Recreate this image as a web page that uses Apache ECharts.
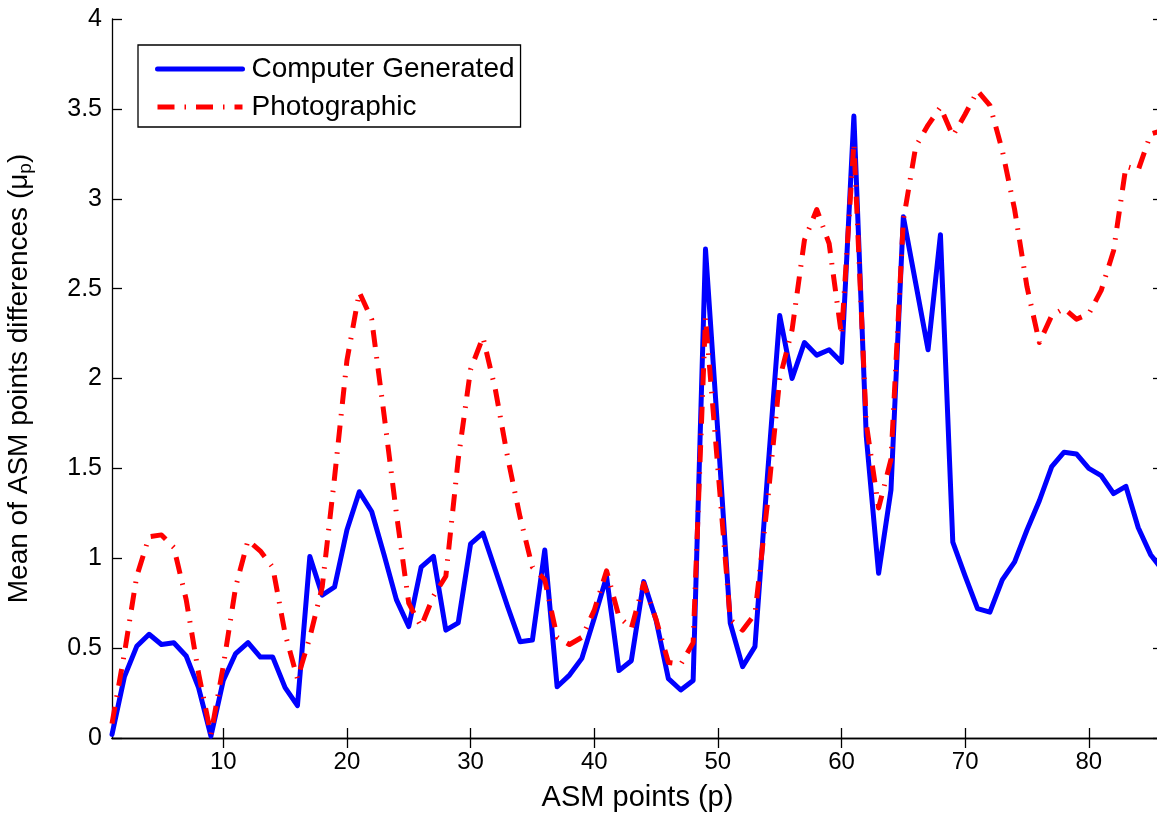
<!DOCTYPE html>
<html>
<head>
<meta charset="utf-8">
<script src="https://cdn.jsdelivr.net/npm/echarts@6/dist/echarts.min.js"></script>
<style>
html,body{margin:0;padding:0;background:#fff;}
#chart{width:1157px;height:816px;}
</style>
</head>
<body>
<div id="chart"></div>
<script>
// ASM point indices 1..86
var points = [];
for (var i = 1; i <= 86; i++) points.push(i);

var computerGenerated = [
  0.02, 0.34, 0.51, 0.577, 0.52, 0.53, 0.456, 0.28, 0.01, 0.32,
  0.47, 0.53, 0.45, 0.45, 0.28, 0.18, 1.01, 0.795, 0.84, 1.157,
  1.37, 1.26, 1.02, 0.77, 0.62, 0.95, 1.01, 0.60, 0.64, 1.08,
  1.14, 0.935, 0.73, 0.536, 0.545, 1.046, 0.285, 0.35, 0.443, 0.666,
  0.897, 0.375, 0.43, 0.87, 0.656, 0.33, 0.267, 0.32, 2.72, 1.70,
  0.64, 0.397, 0.508, 1.45, 2.35, 2.00, 2.20, 2.13, 2.16, 2.09,
  3.46, 1.68, 0.916, 1.38, 2.90, 2.53, 2.16, 2.80, 1.09, 0.90,
  0.72, 0.70, 0.88, 0.98, 1.157, 1.32, 1.51, 1.59, 1.58, 1.50,
  1.46, 1.36, 1.40, 1.17, 1.02, 0.93
];

var photographic = [
  0.08, 0.47, 0.90, 1.12, 1.13, 1.06, 0.77, 0.36, 0.02, 0.40,
  0.84, 1.10, 1.04, 0.95, 0.58, 0.33, 0.56, 0.84, 1.45, 2.10,
  2.48, 2.33, 1.80, 1.25, 0.75, 0.62, 0.79, 0.90, 1.55, 2.05,
  2.23, 1.94, 1.56, 1.23, 0.95, 0.88, 0.56, 0.52, 0.56, 0.71,
  0.93, 0.675, 0.61, 0.86, 0.66, 0.42, 0.41, 0.53, 2.34, 1.50,
  0.66, 0.60, 0.69, 1.30, 2.00, 2.27, 2.77, 2.94, 2.75, 2.24,
  3.31, 1.75, 1.28, 1.55, 2.88, 3.29, 3.41, 3.51, 3.35, 3.47,
  3.60, 3.52, 3.27, 2.94, 2.51, 2.20, 2.35, 2.39, 2.33, 2.36,
  2.49, 2.71, 3.18, 3.16, 3.36, 3.38
];

var xTicks = [10, 20, 30, 40, 50, 60, 70, 80];
var seriesNames = ['Computer Generated', 'Photographic'];
var xTitle = 'ASM points (p)';
var yTitle = 'Mean of ASM points differences (\u03bc{sub|p})';

function pairs(xs, ys) {
  var out = [];
  for (var i = 0; i < xs.length; i++) out.push([xs[i], ys[i]]);
  return out;
}

var FONT = "'Liberation Sans', Arial, Helvetica, sans-serif";
var axisLineStyle = { color: '#000', width: 1.3 };

var chart = echarts.init(document.getElementById('chart'), null, { renderer: 'canvas' });
chart.setOption({
  animation: false,
  backgroundColor: '#fff',
  textStyle: { fontFamily: FONT },
  grid: { left: 112, top: 19, width: 1051, height: 719, containLabel: false, outerBoundsMode: 'none' },
  legend: {
    left: 138, top: 45, orient: 'vertical',
    padding: [10, 6, 6, 17], itemGap: 10, itemWidth: 85, itemHeight: 28,
    borderColor: '#000', borderWidth: 1.3, backgroundColor: '#fff',
    itemStyle: { opacity: 0, borderWidth: 0 },
    lineStyle: { width: 5 },
    textStyle: { fontSize: 28, color: '#000', fontFamily: FONT, padding: [0, 0, 0, 4] },
    data: seriesNames
  },
  xAxis: [
    {
      type: 'value', min: 1, max: 86, position: 'bottom',
      axisLine: { show: true, lineStyle: axisLineStyle },
      axisTick: { show: true, inside: true, length: 10, customValues: xTicks, lineStyle: axisLineStyle },
      axisLabel: { customValues: xTicks, fontSize: 24, color: '#000', margin: 12, fontFamily: FONT },
      splitLine: { show: false },
      name: xTitle, nameLocation: 'middle', nameGap: 45,
      nameTextStyle: { fontSize: 29, color: '#000', fontFamily: FONT }
    },
    {
      type: 'value', min: 1, max: 86, position: 'top',
      axisLine: { show: true, lineStyle: axisLineStyle },
      axisTick: { show: true, inside: true, length: 10, customValues: xTicks, lineStyle: axisLineStyle },
      axisLabel: { show: false },
      splitLine: { show: false }
    }
  ],
  yAxis: [
    {
      type: 'value', min: 0, max: 4, interval: 0.5, position: 'left',
      axisLine: { show: true, lineStyle: axisLineStyle },
      axisTick: { show: true, inside: true, length: 10, lineStyle: axisLineStyle },
      axisLabel: { fontSize: 25, color: '#000', margin: 10, fontFamily: FONT },
      splitLine: { show: false },
      name: yTitle, nameLocation: 'middle', nameGap: 77,
      nameTextStyle: {
        fontSize: 28, color: '#000', fontFamily: FONT,
        rich: { sub: { fontSize: 19, color: '#000', fontFamily: FONT, padding: [12, 0, 0, 0] } }
      }
    },
    {
      type: 'value', min: 0, max: 4, interval: 0.5, position: 'right',
      axisLine: { show: true, lineStyle: axisLineStyle },
      axisTick: { show: true, inside: true, length: 10, lineStyle: axisLineStyle },
      axisLabel: { show: false },
      splitLine: { show: false }
    }
  ],
  series: [
    {
      name: seriesNames[0], type: 'line', xAxisIndex: 0, yAxisIndex: 0,
      data: pairs(points, computerGenerated),
      showSymbol: false, symbol: 'none', z: 2,
      lineStyle: { color: '#0000ff', width: 5, join: 'round', cap: 'round' },
      itemStyle: { color: '#0000ff' }
    },
    {
      name: seriesNames[1], type: 'line', xAxisIndex: 0, yAxisIndex: 0,
      data: pairs(points, photographic),
      showSymbol: false, symbol: 'none', z: 3,
      lineStyle: { color: '#ff0000', width: 5, type: [17, 10, 1.5, 10], cap: 'butt', join: 'round' },
      itemStyle: { color: '#ff0000' }
    }
  ]
});
</script>
</body>
</html>
